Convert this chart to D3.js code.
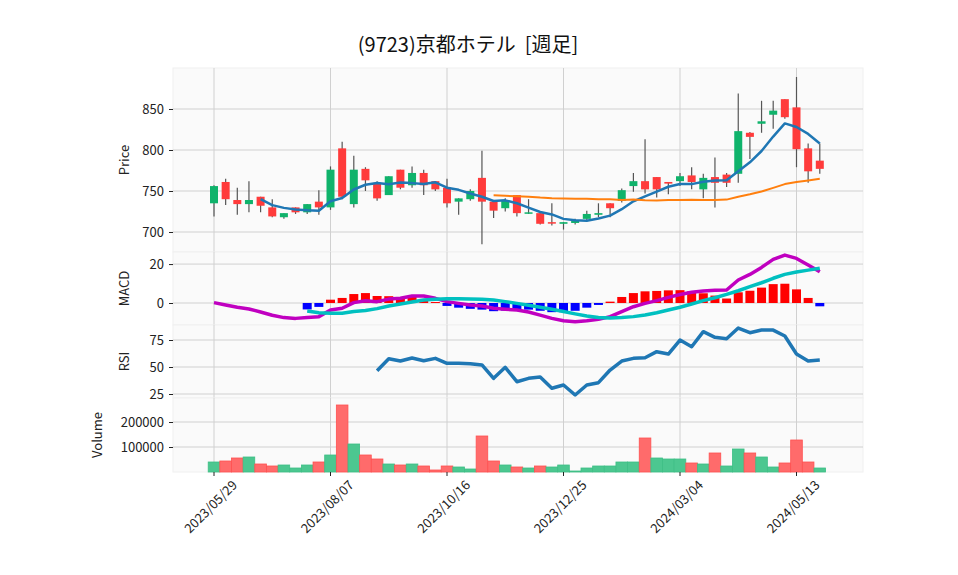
<!DOCTYPE html>
<html><head><meta charset="utf-8">
<script src="https://cdn.jsdelivr.net/npm/d3@7"></script>
<style>body{margin:0;background:#fff}svg text{font-family:"Noto Sans CJK JP","Noto Sans",sans-serif;white-space:pre}</style>
</head><body><div id="chart"></div>
<script>
const startDate = new Date(2023, 4, 29);
const opens  = [735,761,739,734,743,730,718,730,724,737,730,802,734,777,760,745,776,757,772,762,754,737,740,766,737,729,745,723,723,712,710,711,716,721,735,738,756,762,767,761,762,769,752,767,770,771,821,832,843,862,852,802,787];
const closes = [756,740,734,739,732,719,723,724,734,730,776,743,776,763,741,768,754,772,757,752,735,741,750,737,726,739,723,724,710,711,712,714,722,723,729,751,762,752,752,759,768,761,766,760,760,823,816,835,848,840,801,774,777];
const highs  = [757,765,754,762,743,740,723,730,734,751,780,810,793,779,762,768,776,780,776,762,765,741,752,799,737,741,745,740,723,735,712,716,726,735,735,753,772,813,767,761,772,779,771,791,772,869,822,860,860,862,889,808,808];
const lows   = [719,733,721,724,724,718,716,722,722,721,727,740,730,750,738,745,752,754,745,750,730,721,738,685,717,725,719,722,709,708,703,709,714,718,718,736,749,747,742,746,756,752,741,730,755,760,789,821,826,838,779,760,771];
const volumes = [40,44,56,60,32,24,28,16,28,40,68,268,112,68,52,32,28,32,24,8,24,20,12,144,44,28,20,16,24,20,28,4,16,24,24,40,40,136,56,52,52,36,32,76,24,92,76,60,20,36,128,40,16].map(v => v * 1000);
const macd = [0.2,-1,-2.2,-3.1,-4.6,-6.3,-7.5,-7.9,-7.4,-7,-3.6,-2.7,0.2,1.2,0.7,2,2.4,3.6,3.6,2.4,0.7,-0.2,-1,-1.5,-2.7,-3.2,-3.6,-4.6,-6.2,-7.9,-9.1,-9.6,-9.1,-8.4,-7,-4.4,-1.9,-0.2,1.2,2.9,4.4,5.5,6.2,6.5,6.7,11.8,14.7,18.3,22.4,24.6,22.9,19.5,16.1];
const signal = [null,null,null,null,null,null,null,null,-4.1,-5,-5.3,-5.3,-4.4,-3.9,-2.9,-1.5,-0.5,0.5,1.5,1.9,2.2,2.2,2,1.9,1.5,0.7,-0.2,-1.2,-2.2,-3.2,-4.4,-5.6,-6.7,-7.4,-7.7,-7.5,-7,-6.2,-5,-3.6,-2.2,-0.5,1.2,2.7,4.4,6.3,8.4,10.4,12.7,14.7,15.9,16.9,17.8];
const rsi = [null,null,null,null,null,null,null,null,null,null,null,null,null,null,46.6,57.7,55.5,58.3,55.8,58,53.4,53.4,53.1,51.9,39.5,49.7,36.4,39.5,40.7,30.3,33.3,24.1,33.3,35.5,47.2,55.5,58,58.6,64.2,62,75,68.8,82.7,77.5,76.2,86.1,81.8,84.2,84.2,78.7,62,55.5,56.5];
const tickIdx = [0,10,20,30,40,50];
const priceTicks = [700,750,800,850], macdTicks = [0,20], rsiTicks = [25,50,75], volTicks = [100000,200000];

const n = closes.length;
const dates = d3.range(n).map(i => d3.timeDay.offset(startDate, 7 * i));
const fmt = d3.timeFormat("%Y/%m/%d");
function ma(p) { return closes.map((c, i) => i < p - 1 ? null : d3.mean(closes.slice(i - p + 1, i + 1))); }
const ma5 = ma(5), ma25 = ma(25);
const hist = macd.map((m, i) => signal[i] == null ? null : {i: i, v: m - signal[i]}).filter(d => d);

const W = 958, H = 575, L = 173, R = 863;
const svg = d3.select("#chart").append("svg").attr("width", W).attr("height", H);
const x = d3.scaleLinear().domain([0, 52]).range([214, 214 + 52 * 11.65]);
const panels = [
  {top: 68, bot: 252, y: d3.scaleLinear().domain([675.6, 900]).range([252, 68]), ticks: priceTicks, label: "Price"},
  {top: 252, bot: 325, y: d3.scaleLinear().domain([-11.3, 26.2]).range([325, 252]), ticks: macdTicks, label: "MACD"},
  {top: 325, bot: 398, y: d3.scaleLinear().domain([21.3, 88.9]).range([398, 325]), ticks: rsiTicks, label: "RSI"},
  {top: 398, bot: 472, y: d3.scaleLinear().domain([0, 296000]).range([472, 398]), ticks: volTicks, label: "Volume"}
];
panels.forEach(p => {
  const g = svg.append("g");
  g.append("rect").attr("x", L).attr("y", p.top).attr("width", R - L).attr("height", p.bot - p.top)
    .attr("fill", "#fafafa").attr("stroke", "#f0f0f0");
  g.selectAll(".h").data(p.ticks).join("line").attr("x1", L).attr("x2", R)
    .attr("y1", d => p.y(d)).attr("y2", d => p.y(d)).attr("stroke", "#d0d0d0");
  g.selectAll(".v").data(tickIdx).join("line").attr("x1", d => x(d)).attr("x2", d => x(d))
    .attr("y1", p.top).attr("y2", p.bot).attr("stroke", "#d0d0d0");
  const ax = svg.append("g").attr("transform", `translate(${L},0)`)
    .call(d3.axisLeft(p.y).tickValues(p.ticks).tickFormat(d3.format("d")).tickSize(4).tickPadding(5));
  ax.select(".domain").remove();
  ax.selectAll("text").attr("font-size", 13).attr("fill", "#222");
  ax.selectAll("line").attr("stroke", "#222");
  const lx = p.label === "Volume" ? 102 : 129;
  svg.append("text").attr("transform", `translate(${lx},${(p.top + p.bot) / 2}) rotate(-90)`)
    .attr("text-anchor", "middle").attr("font-size", 13).attr("fill", "#222").text(p.label);
});

const [pp, pm, pr, pv] = panels;
const cw = 8;
const cg = svg.append("g");
cg.selectAll(".wick").data(closes).join("line")
  .attr("x1", (d, i) => x(i)).attr("x2", (d, i) => x(i))
  .attr("y1", (d, i) => pp.y(highs[i])).attr("y2", (d, i) => pp.y(lows[i]))
  .attr("stroke", "#555").attr("stroke-width", 1.2);
cg.selectAll(".body").data(closes).join("rect")
  .attr("x", (d, i) => x(i) - cw / 2).attr("width", cw)
  .attr("y", (d, i) => pp.y(Math.max(d, opens[i])))
  .attr("height", (d, i) => Math.max(1.5, Math.abs(pp.y(d) - pp.y(opens[i]))))
  .attr("fill", (d, i) => d >= opens[i] ? "#0fb36b" : "#ff3b3b");
const line = yS => d3.line().defined(d => d != null).x((d, i) => x(i)).y(d => yS(d));
const addLine = (data, yS, color, w) => svg.append("path").datum(data).attr("fill", "none")
  .attr("stroke", color).attr("stroke-width", w).attr("stroke-linejoin", "round").attr("d", line(yS));
addLine(ma5, pp.y, "#1f77b4", 2.5);
addLine(ma25, pp.y, "#ff7f0e", 2);

svg.append("g").selectAll("rect").data(hist).join("rect")
  .attr("x", d => x(d.i) - 4.5).attr("width", 9)
  .attr("y", d => pm.y(Math.max(0, d.v))).attr("height", d => Math.abs(pm.y(d.v) - pm.y(0)))
  .attr("fill", d => d.v >= 0 ? "#ff0000" : "#0000ff");
addLine(macd, pm.y, "#c000c0", 3.5);
addLine(signal, pm.y, "#00c0c0", 3.5);

addLine(rsi, pr.y, "#1f77b4", 3.5);

const up = i => i === 0 || closes[i] >= closes[i - 1];
svg.append("g").selectAll("rect").data(volumes).join("rect")
  .attr("x", (d, i) => x(i) - 5.8).attr("width", 11.6)
  .attr("y", d => pv.y(d)).attr("height", d => pv.y(0) - pv.y(d))
  .attr("fill", (d, i) => up(i) ? "#4cc790" : "#ff6b6b")
  .attr("stroke", (d, i) => up(i) ? "#3dbf85" : "#ff5050").attr("stroke-width", 0.8);

const xa = svg.append("g").attr("transform", "translate(0,472)");
xa.selectAll("line").data(tickIdx).join("line").attr("x1", d => x(d)).attr("x2", d => x(d))
  .attr("y1", 0).attr("y2", 4).attr("stroke", "#222");
xa.selectAll("text").data(tickIdx).join("text")
  .attr("transform", d => `translate(${x(d)},${38}) rotate(-45)`)
  .attr("text-anchor", "middle").attr("font-size", 13).attr("fill", "#222")
  .text(d => fmt(dates[d]));

svg.append("text").attr("x", 468).attr("y", 52).attr("text-anchor", "middle")
  .attr("font-size", 20).attr("fill", "#111").text("(9723)京都ホテル  [週足]");
</script></body></html>
